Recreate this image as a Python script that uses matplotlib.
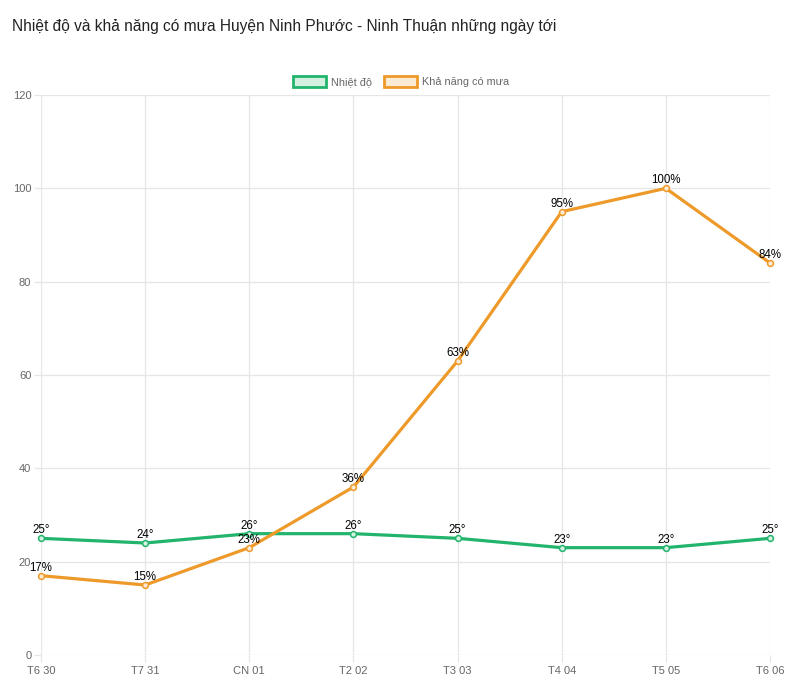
import matplotlib
matplotlib.use("Agg")
import matplotlib.pyplot as plt
from matplotlib.patches import Rectangle

days = ["T6 30", "T7 31", "CN 01", "T2 02", "T3 03", "T4 04", "T5 05", "T6 06"]
temperature = [25, 24, 26, 26, 25, 23, 23, 25]
rain_chance = [17, 15, 23, 36, 63, 95, 100, 84]
y_ticks = [0, 20, 40, 60, 80, 100, 120]

title = "Nhiệt độ và khả năng có mưa Huyện Ninh Phước - Ninh Thuận những ngày tới"
legend_labels = ["Nhiệt độ", "Khả năng có mưa"]

green = "#22b46c"
orange = "#ee9a2a"
green_fill = "#d3f0e1"
orange_fill = "#fcebd4"

plt.rcParams['font.family'] = ['Liberation Sans', 'DejaVu Sans']

fig = plt.figure(figsize=(8, 6.9), dpi=100)
ax = fig.add_axes([41/800, 1-655/690, (770-41)/800, (655-95)/690])

x = list(range(len(days)))
ax.plot(x, temperature, color=green, lw=2.3, marker='o', ms=4.2,
        mfc=green_fill, mec=green, mew=1.1, zorder=3, clip_on=False)
ax.plot(x, rain_chance, color=orange, lw=2.3, marker='o', ms=4.2,
        mfc=orange_fill, mec=orange, mew=1.1, zorder=3, clip_on=False)

for xi, v in zip(x, temperature):
    ax.annotate(f"{v}°", (xi, v), xytext=(0, 1.5), textcoords='offset points',
                ha='center', va='bottom', fontsize=8.3, color='#000000', zorder=5)
for xi, v in zip(x, rain_chance):
    ax.annotate(f"{v}%", (xi, v), xytext=(0, 1.5), textcoords='offset points',
                ha='center', va='bottom', fontsize=8.3, color='#000000', zorder=5)

ax.set_xlim(0, len(days) - 1)
ax.set_ylim(0, 120)
ax.set_yticks(y_ticks)
ax.set_xticks(x)
ax.set_xticklabels(days)
ax.grid(True, color='#e6e6e6', lw=0.9)
ax.set_axisbelow(True)
for s in ax.spines.values():
    s.set_visible(False)
ax.tick_params(axis='both', colors='#e6e6e6', labelcolor='#666666',
               labelsize=8, length=5, width=0.9)
ax.tick_params(axis='x', pad=3)
ax.tick_params(axis='y', pad=2)

fig.text(12/800, 1-25/690, title, fontsize=11.2, color='#222222',
         va='center_baseline', ha='left')

# legend
ly = 1 - 81/690
bw, bh = 33/800, 11/690
items = [(293/800, green, green_fill, legend_labels[0]),
         (384/800, orange, orange_fill, legend_labels[1])]
for lx, ec, fc, lab in items:
    fig.patches.append(Rectangle((lx, ly - bh/2), bw, bh, transform=fig.transFigure,
                                 facecolor=fc, edgecolor=ec, lw=2))
    fig.text(lx + bw + 5/800, ly, lab, fontsize=7.8, color='#666666',
             va='center_baseline', ha='left')

fig.savefig("out.png", dpi=100)
